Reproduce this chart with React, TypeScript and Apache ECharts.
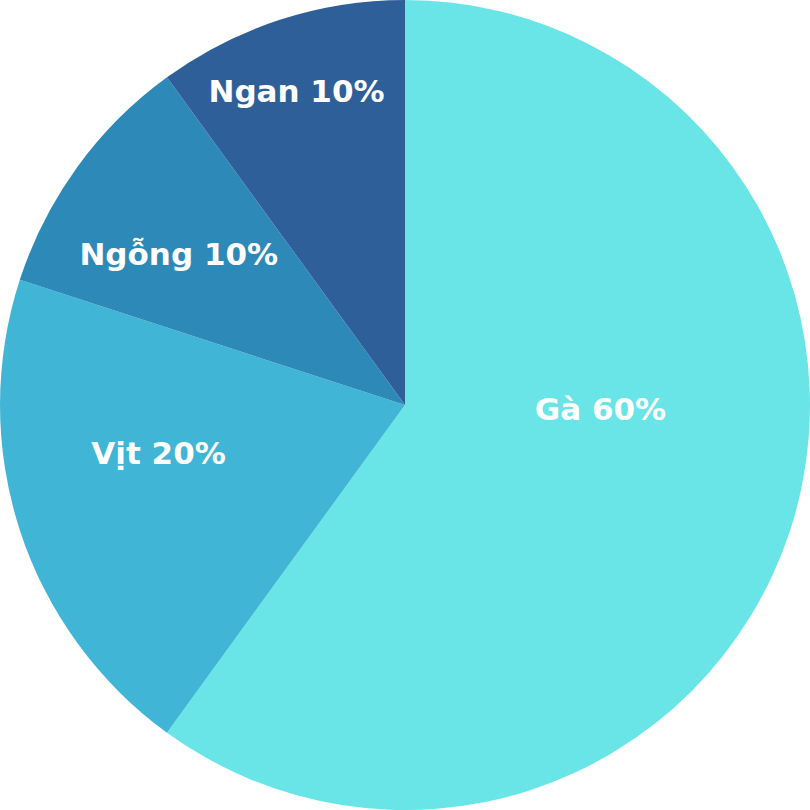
import React, { useEffect, useRef } from "react";
import * as echarts from "echarts";

const categories = ["Gà", "Vịt", "Ngỗng", "Ngan"];
const values = [60, 20, 10, 10];
const colors = ["#69E5E7", "#41B5D5", "#2D89B7", "#2E5F98"];
const labelOffsets = [
  [0, -60],
  [-51, -16],
  [-60, -30],
  [-45, -119],
];

export default function App() {
  const ref = useRef<HTMLDivElement>(null);
  useEffect(() => {
    if (!ref.current) return;
    const chart = echarts.init(ref.current, undefined, { renderer: "svg" });
    chart.setOption({
      animation: false,
      series: [
        {
          type: "pie",
          center: ["50%", "50%"],
          radius: ["0%", "100%"],
          startAngle: 90,
          clockwise: true,
          silent: true,
          itemStyle: { borderWidth: 0 },
          label: {
            show: true,
            position: "inside",
            color: "#ffffff",
            fontFamily: "DejaVu Sans",
            fontWeight: "bold",
            fontSize: 31,
            formatter: (p: any) => `${p.name} ${p.value}%`,
          },
          labelLine: { show: false },
          data: categories.map((name, i) => ({
            name,
            value: values[i],
            itemStyle: { color: colors[i] },
            label: { offset: labelOffsets[i] },
          })),
        },
      ],
    });
    return () => chart.dispose();
  }, []);
  return (
    <div
      ref={ref}
      style={{ position: "fixed", left: 0, top: 0, width: 810, height: 810, background: "#ffffff" }}
    />
  );
}
